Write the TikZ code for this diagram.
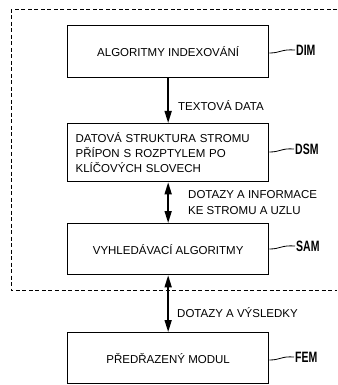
\documentclass[tikz,border=0pt]{standalone}
\usepackage{fontspec}
\setmainfont{Liberation Sans}
\usetikzlibrary{arrows.meta}
\newcommand{\tagtext}[1]{\scalebox{0.7}[1]{\bfseries\fontsize{15}{15}\selectfont #1}}
\begin{document}
\begin{tikzpicture}[x=1pt,y=-1pt,
  box/.style={draw,line width=1.3pt,minimum width=201pt,anchor=north west,inner sep=0pt,font=\fontsize{11.5}{15}\selectfont},
  lab/.style={font=\fontsize{11.5}{16}\selectfont,anchor=west,inner sep=0pt},
  tag/.style={anchor=west,inner sep=0pt},
  tip/.style={Triangle[length=12pt,width=7pt]},
  conn/.style={line width=1.5pt,-{Triangle[length=12pt,width=7pt]}},
  bconn/.style={line width=1.5pt,{Triangle[length=12pt,width=7pt]}-{Triangle[length=12pt,width=7pt]}},
  lead/.style={line width=0.8pt}]
\useasboundingbox (0,0) rectangle (337,385);
\draw[line width=1pt,dash pattern=on 4pt off 2.5pt] (337,10) -- (11,10) -- (11,290) -- (337,290);
\node[box,minimum height=52pt] (dim) at (67,25) {ALGORITMY INDEXOVÁNÍ};
\node[box,minimum height=58pt,align=left,text width=185pt,inner xsep=8pt] (dsm) at (67,123) {DATOVÁ STRUKTURA STROMU\\PŘÍPON S ROZPTYLEM PO\\KLÍČOVÝCH SLOVECH};
\node[box,minimum height=51pt] (sam) at (67,223) {VYHLEDÁVACÍ ALGORITMY};
\node[box,minimum height=51pt] (fem) at (67,332) {PŘEDŘAZENÝ MODUL};
\draw[conn] (dim.south) -- (dsm.north);
\draw[bconn] (dsm.south) -- (sam.north);
\draw[bconn] (sam.south) -- (fem.north);
\node[lab] (l1) at (178,106) {TEXTOVÁ DATA};
\node[lab,align=left] (l2) at (188,203) {DOTAZY A INFORMACE\\KE STROMU A UZLU};
\node[lab] (l3) at (177,313) {DOTAZY A VÝSLEDKY};
\node[tag] (tdim) at (296,50) {\tagtext{DIM}};
\node[tag] (tdsm) at (295,149) {\tagtext{DSM}};
\node[tag] (tsam) at (296,246) {\tagtext{SAM}};
\node[tag] (tfem) at (295,357) {\tagtext{FEM}};
\draw[lead] (dim.east |- 0,53) .. controls (281,53) and (281,49) .. ([xshift=-1pt]tdim.west);
\draw[lead] (dsm.east |- 0,152) .. controls (281,152) and (281,148) .. ([xshift=-1pt]tdsm.west);
\draw[lead] (sam.east |- 0,249) .. controls (281,249) and (281,245) .. ([xshift=-1pt]tsam.west);
\draw[lead] (fem.east |- 0,360) .. controls (281,360) and (281,356) .. ([xshift=-1pt]tfem.west);
\end{tikzpicture}
\end{document}
